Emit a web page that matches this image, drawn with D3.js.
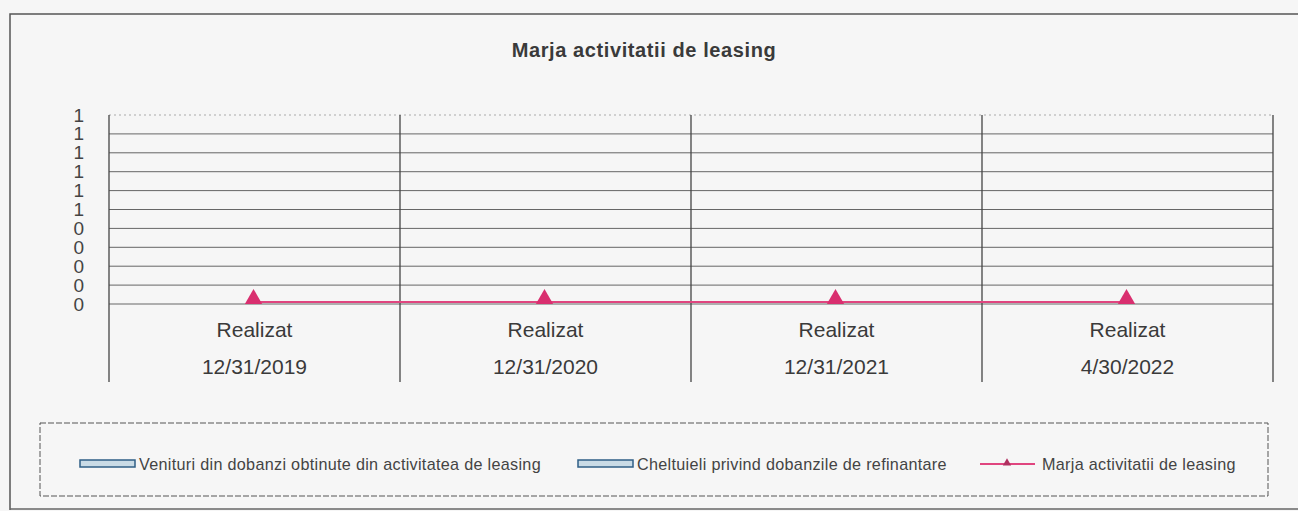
<!DOCTYPE html>
<html><head><meta charset="utf-8">
<script src="https://cdn.jsdelivr.net/npm/d3@7"></script>
<style>
body{margin:0;background:#f6f6f6;}
svg{display:block;font-family:Arial,"Liberation Sans",sans-serif;}
</style></head>
<body><svg id="c" width="1298" height="511"></svg>
<script>
const title = "Marja activitatii de leasing";
const categories = ["12/31/2019","12/31/2020","12/31/2021","4/30/2022"];
const catTop = ["Realizat","Realizat","Realizat","Realizat"];
const venituri = [0,0,0,0];
const cheltuieli = [0,0,0,0];
const marja = [0,0,0,0];
const yTicks = [0,0.1,0.2,0.3,0.4,0.5,0.6,0.7,0.8,0.9,1];
const yTickLabels = ["0","0","0","0","0","1","1","1","1","1","1"];
const seriesNames = ["Venituri din dobanzi obtinute din activitatea de leasing","Cheltuieli privind dobanzile de refinantare","Marja activitatii de leasing"];

const svg = d3.select("#c");
const W=1298,H=511;
svg.append("rect").attr("width",W).attr("height",H).attr("fill","#f6f6f6");
// outer frame
svg.append("path").attr("d","M10,510 L10,14 L1298,14").attr("fill","none").attr("stroke","#555").attr("stroke-width",1.5);
svg.append("line").attr("x1",10).attr("x2",1298).attr("y1",509).attr("y2",509).attr("stroke","#666").attr("stroke-width",1.5);

svg.append("text").attr("x",644).attr("y",57).attr("text-anchor","middle")
  .attr("font-size",20).attr("font-weight","bold").attr("letter-spacing",0.6).attr("fill","#3a3a3a").text(title);

const m={l:109,r:1273,t:115,b:304};
const x=d3.scaleBand().domain(categories).range([m.l,m.r]);
const y=d3.scaleLinear().domain([0,1]).range([m.b,m.t]);

// gridlines
svg.append("g").selectAll("line").data(yTicks).join("line")
  .attr("x1",m.l).attr("x2",m.r).attr("y1",d=>y(d)).attr("y2",d=>y(d))
  .attr("stroke",(d,i)=>i===yTicks.length-1?"#aaa":"#666").attr("stroke-width",1)
  .attr("stroke-dasharray",(d,i)=>i===yTicks.length-1?"2,3":null);

// y axis
const yAxis=d3.axisLeft(y).tickValues(yTicks).tickSize(0).tickPadding(25)
  .tickFormat((d,i)=>yTickLabels[i]);
const ga=svg.append("g").attr("transform",`translate(${m.l},0)`).call(yAxis);
ga.select(".domain").remove();
ga.selectAll("text").attr("font-size",19).attr("fill","#444").attr("font-family","Arial,'Liberation Sans',sans-serif");

// category separators
const seps=categories.map(c=>x(c)).concat([m.r]);
svg.append("g").selectAll("line").data(seps).join("line")
  .attr("x1",d=>d).attr("x2",d=>d).attr("y1",m.t).attr("y2",382)
  .attr("stroke","#444").attr("stroke-width",1.3);

// category labels
const gl=svg.append("g");
gl.selectAll("text.t").data(categories).join("text").attr("class","t")
  .attr("x",d=>x(d)+x.bandwidth()/2).attr("y",337).attr("text-anchor","middle")
  .attr("font-size",21).attr("fill","#3a3a3a").text((d,i)=>catTop[i]);
gl.selectAll("text.b").data(categories).join("text").attr("class","b")
  .attr("x",d=>x(d)+x.bandwidth()/2).attr("y",374).attr("text-anchor","middle")
  .attr("font-size",21).attr("fill","#3a3a3a").text(d=>d);

// bars (zero height)
const bw=x.bandwidth()*0.3;
svg.append("g").selectAll("rect").data(venituri).join("rect")
  .attr("x",(d,i)=>x(categories[i])+x.bandwidth()/2-bw).attr("width",bw)
  .attr("y",d=>y(d)).attr("height",d=>y(0)-y(d)).attr("fill","#cfe3ee").attr("stroke","#3a6f99");
svg.append("g").selectAll("rect").data(cheltuieli).join("rect")
  .attr("x",(d,i)=>x(categories[i])+x.bandwidth()/2).attr("width",bw)
  .attr("y",d=>y(d)).attr("height",d=>y(0)-y(d)).attr("fill","#d8ecf5").attr("stroke","#3a6f99");

// line
const pink="#e0457f";
const line=d3.line().x((d,i)=>x(categories[i])+x.bandwidth()/2-1).y(d=>y(d)-2);
svg.append("path").datum(marja).attr("d",line).attr("fill","none").attr("stroke",pink).attr("stroke-width",2.2);
svg.append("g").selectAll("path").data(marja).join("path")
  .attr("d",d3.symbol(d3.symbolTriangle,130))
  .attr("transform",(d,i)=>`translate(${x(categories[i])+x.bandwidth()/2-1},${y(d)-5})`)
  .attr("fill","#d92f6f");

// legend
svg.append("rect").attr("x",40).attr("y",423).attr("width",1228).attr("height",73)
  .attr("fill","none").attr("stroke","#555").attr("stroke-width",1).attr("stroke-dasharray","6,2");
const lg=svg.append("g").attr("font-size",16.2).attr("letter-spacing",0.3).attr("fill","#444");
[[80,seriesNames[0]],[578,seriesNames[1]]].forEach(([lx,t])=>{
  lg.append("rect").attr("x",lx).attr("y",460).attr("width",55).attr("height",7)
    .attr("fill","#c9dbe6").attr("stroke","#2f5f86").attr("stroke-width",1.5);
  lg.append("text").attr("x",lx+59).attr("y",470).attr("fill","#444").text(t);
});
lg.append("line").attr("x1",980).attr("x2",1035).attr("y1",464).attr("y2",464).attr("stroke",pink).attr("stroke-width",2);
lg.append("path").attr("d",d3.symbol(d3.symbolTriangle,30)).attr("transform","translate(1007,463)").attr("fill","#b03060");
lg.append("text").attr("x",1042).attr("y",470).attr("fill","#444").text(seriesNames[2]);
</script></body></html>
